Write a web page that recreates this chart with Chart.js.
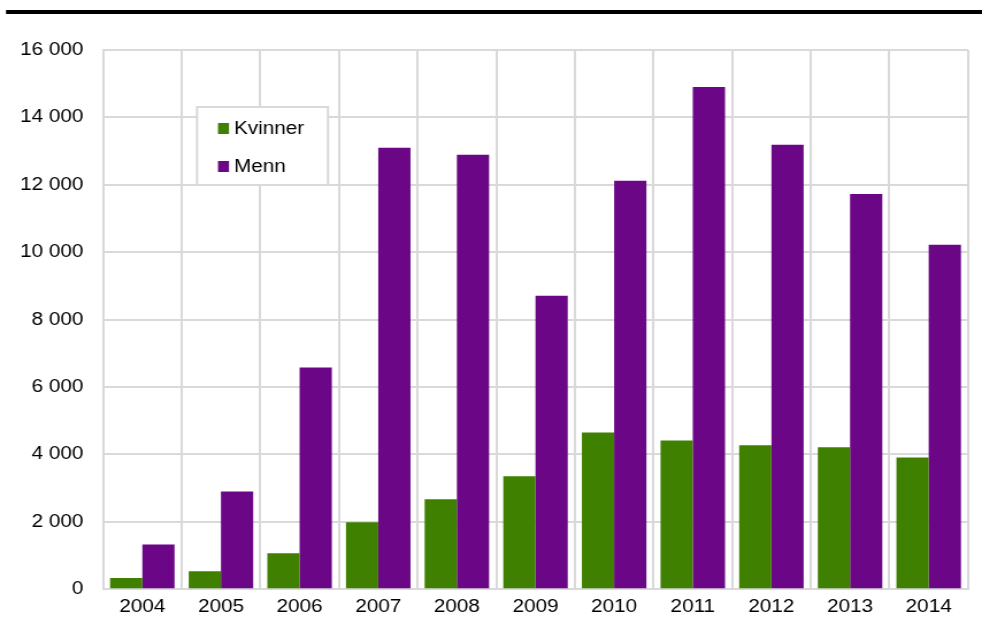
<!DOCTYPE html>
<html><head><meta charset="utf-8">
<script src="https://cdn.jsdelivr.net/npm/chart.js@4"></script>
<style>html,body{margin:0;padding:0;background:#fff;overflow:hidden}#wrap{width:982px;height:617px;position:relative;overflow:hidden}#inner{width:854px;height:617px;transform:scaleX(1.1499);transform-origin:0 0}</style>
</head><body><div id="wrap"><div id="inner"><canvas id="c" width="854" height="617"></canvas></div></div>
<script>
const years = ['2004','2005','2006','2007','2008','2009','2010','2011','2012','2013','2014'];
const kvinner = [330, 530, 1070, 1985, 2670, 3350, 4650, 4410, 4270, 4210, 3910];
const menn = [1330, 2900, 6580, 13100, 12890, 8710, 12120, 14900, 13190, 11730, 10220];
const seriesNames = ['Kvinner', 'Menn'];
const yTicks = [0, 2000, 4000, 6000, 8000, 10000, 12000, 14000, 16000];

const FONT = 'Liberation Sans, Arial, sans-serif';
const grid = '#d9d9d9';
const SX = 1.1499;

const extras = {
  id: 'extras',
  beforeDraw(chart) {
    const ctx = chart.ctx;
    ctx.save();
    ctx.fillStyle = '#fff';
    ctx.fillRect(0, 0, chart.width, chart.height);
    ctx.fillStyle = '#000';
    ctx.fillRect(6 / SX, 10, chart.width, 4);
    ctx.restore();
  },
  afterDraw(chart) {
    const ctx = chart.ctx;
    ctx.save();
    const x = 197 / SX, y = 107, w = 131 / SX, h = 78;
    ctx.fillStyle = '#fff';
    ctx.fillRect(x, y, w, h);
    ctx.strokeStyle = grid;
    ctx.lineWidth = 2;
    ctx.strokeRect(x, y, w, h);
    ctx.font = '18px ' + FONT;
    ctx.textBaseline = 'middle';
    chart.data.datasets.forEach((ds, i) => {
      const cy = y + 22 + i * 38;
      ctx.fillStyle = ds.backgroundColor;
      ctx.fillRect(218 / SX, cy - 6, 11 / SX, 11);
      ctx.fillStyle = '#000';
      ctx.fillText(ds.label, 234 / SX, cy);
    });
    ctx.restore();
  }
};

new Chart(document.getElementById('c'), {
  type: 'bar',
  data: {
    labels: years,
    datasets: [
      { label: seriesNames[0], data: kvinner, backgroundColor: '#3f8001' },
      { label: seriesNames[1], data: menn, backgroundColor: '#6b0787' }
    ]
  },
  options: {
    responsive: false,
    animation: false,
    devicePixelRatio: 1,
    layout: { padding: { top: 50, right: 14 / SX, left: 0, bottom: 0 } },
    datasets: { bar: { categoryPercentage: 0.82, barPercentage: 1.0, borderWidth: 0 } },
    plugins: { legend: { display: false }, tooltip: { enabled: false } },
    scales: {
      x: {
        grid: { color: grid, lineWidth: 2, offset: true, drawTicks: false },
        border: { color: grid, width: 2 },
        ticks: { color: '#000', font: { family: FONT, size: 18 }, padding: 7, maxRotation: 0 },
        afterFit(s) { s.height = 24; }
      },
      y: {
        min: 0, max: 16000,
        afterBuildTicks(s) { s.ticks = yTicks.map(v => ({ value: v })); },
        grid: { color: grid, lineWidth: 2, drawTicks: false },
        border: { color: grid, width: 2 },
        ticks: {
          color: '#000', font: { family: FONT, size: 18 }, padding: 17,
          callback: v => String(v).replace(/\B(?=(\d{3})+(?!\d))/g, ' ')
        },
        afterFit(s) { s.width = 103 / SX; }
      }
    }
  },
  plugins: [extras]
});
</script></body></html>
